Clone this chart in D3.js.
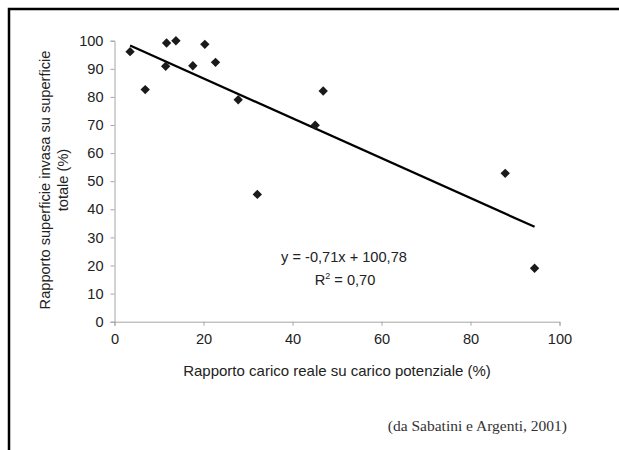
<!DOCTYPE html>
<html>
<head>
<meta charset="utf-8">
<script src="https://cdn.jsdelivr.net/npm/d3@7"></script>
<style>
  body { margin: 0; background: #fff; }
  svg { display: block; }
  .axis path, .axis line { stroke: #a6a6a6; }
  .axis text { font-family: "Liberation Sans", Arial, sans-serif; font-size: 14.6px; fill: #222; }
</style>
</head>
<body>
<div id="chart"></div>
<script>
// data
var xValues = [3.5, 6.9, 11.5, 11.7, 13.8, 17.6, 20.3, 22.7, 27.8, 32.1, 45.1, 46.9, 87.8, 94.4];
var yValues = [96.1, 82.6, 90.9, 99.2, 100, 91.1, 98.7, 92.3, 79.0, 45.3, 69.9, 82.1, 52.8, 19.0];
var xTicks = [0, 20, 40, 60, 80, 100];
var yTicks = [0, 10, 20, 30, 40, 50, 60, 70, 80, 90, 100];
// linear trend as printed on the chart
var trendSlope = -0.71;
var trendIntercept = 100.78;
var trendRange = [3.5, 94.4];

var width = 619, height = 450;

var svg = d3.select("#chart").append("svg")
    .attr("width", width)
    .attr("height", height);

// frame (open on right and bottom, like the scan)
svg.append("path")
    .attr("d", "M9,450 V9 H619")
    .attr("fill", "none")
    .attr("stroke", "#000")
    .attr("stroke-width", 2.5);

var xScale = d3.scaleLinear().domain([0, 100]).range([114.5, 559.5]);
var yScale = d3.scaleLinear().domain([0, 100]).range([321.7, 40.7]);

svg.append("g")
    .attr("class", "axis")
    .attr("transform", "translate(0," + yScale(0) + ")")
    .call(d3.axisBottom(xScale).tickValues(xTicks).tickSize(4).tickSizeOuter(4).tickPadding(8));

svg.append("g")
    .attr("class", "axis")
    .attr("transform", "translate(" + xScale(0) + ",0)")
    .call(d3.axisLeft(yScale).tickValues(yTicks).tickSize(4).tickSizeOuter(4).tickPadding(7));

// trend line
svg.append("line")
    .attr("x1", xScale(trendRange[0]))
    .attr("y1", yScale(trendSlope * trendRange[0] + trendIntercept))
    .attr("x2", xScale(trendRange[1]))
    .attr("y2", yScale(trendSlope * trendRange[1] + trendIntercept))
    .attr("stroke", "#000")
    .attr("stroke-width", 2.2);

// points
var points = xValues.map(function(x, i){ return {x: x, y: yValues[i]}; });
svg.selectAll(".pt")
    .data(points)
    .enter().append("path")
    .attr("class", "pt")
    .attr("d", d3.symbol().type(d3.symbolDiamond2).size(56))
    .attr("transform", function(d){ return "translate(" + xScale(d.x) + "," + yScale(d.y) + ")"; })
    .attr("fill", "#1a1a1a");

var sans = "'Liberation Sans', Arial, sans-serif";

// equation
svg.append("text")
    .attr("x", 344).attr("y", 262)
    .attr("text-anchor", "middle")
    .attr("font-family", sans).attr("font-size", 14.6).attr("fill", "#222")
    .text("y = -0,71x + 100,78");

var r2 = svg.append("text")
    .attr("x", 345).attr("y", 285)
    .attr("text-anchor", "middle")
    .attr("font-family", sans).attr("font-size", 14.6).attr("fill", "#222");
r2.append("tspan").text("R");
r2.append("tspan").attr("font-size", 9).attr("dy", -6).text("2");
r2.append("tspan").attr("dy", 6).text(" = 0,70");

// axis titles
svg.append("text")
    .attr("x", 337).attr("y", 376)
    .attr("text-anchor", "middle")
    .attr("font-family", sans).attr("font-size", 15).attr("fill", "#222")
    .text("Rapporto carico reale su carico potenziale (%)");

var yTitle = svg.append("text")
    .attr("transform", "translate(50,180) rotate(-90)")
    .attr("text-anchor", "middle")
    .attr("font-family", sans).attr("font-size", 14.6).attr("fill", "#222");
yTitle.append("tspan").attr("x", 0).attr("dy", 0).text("Rapporto superficie invasa su superficie");
yTitle.append("tspan").attr("x", 0).attr("dy", 18).text("totale (%)");

// source note
svg.append("text")
    .attr("x", 567).attr("y", 431)
    .attr("text-anchor", "end")
    .attr("font-family", "'Liberation Serif', 'Times New Roman', serif")
    .attr("font-size", 15.5).attr("fill", "#333")
    .text("(da Sabatini e Argenti, 2001)");
</script>
</body>
</html>
